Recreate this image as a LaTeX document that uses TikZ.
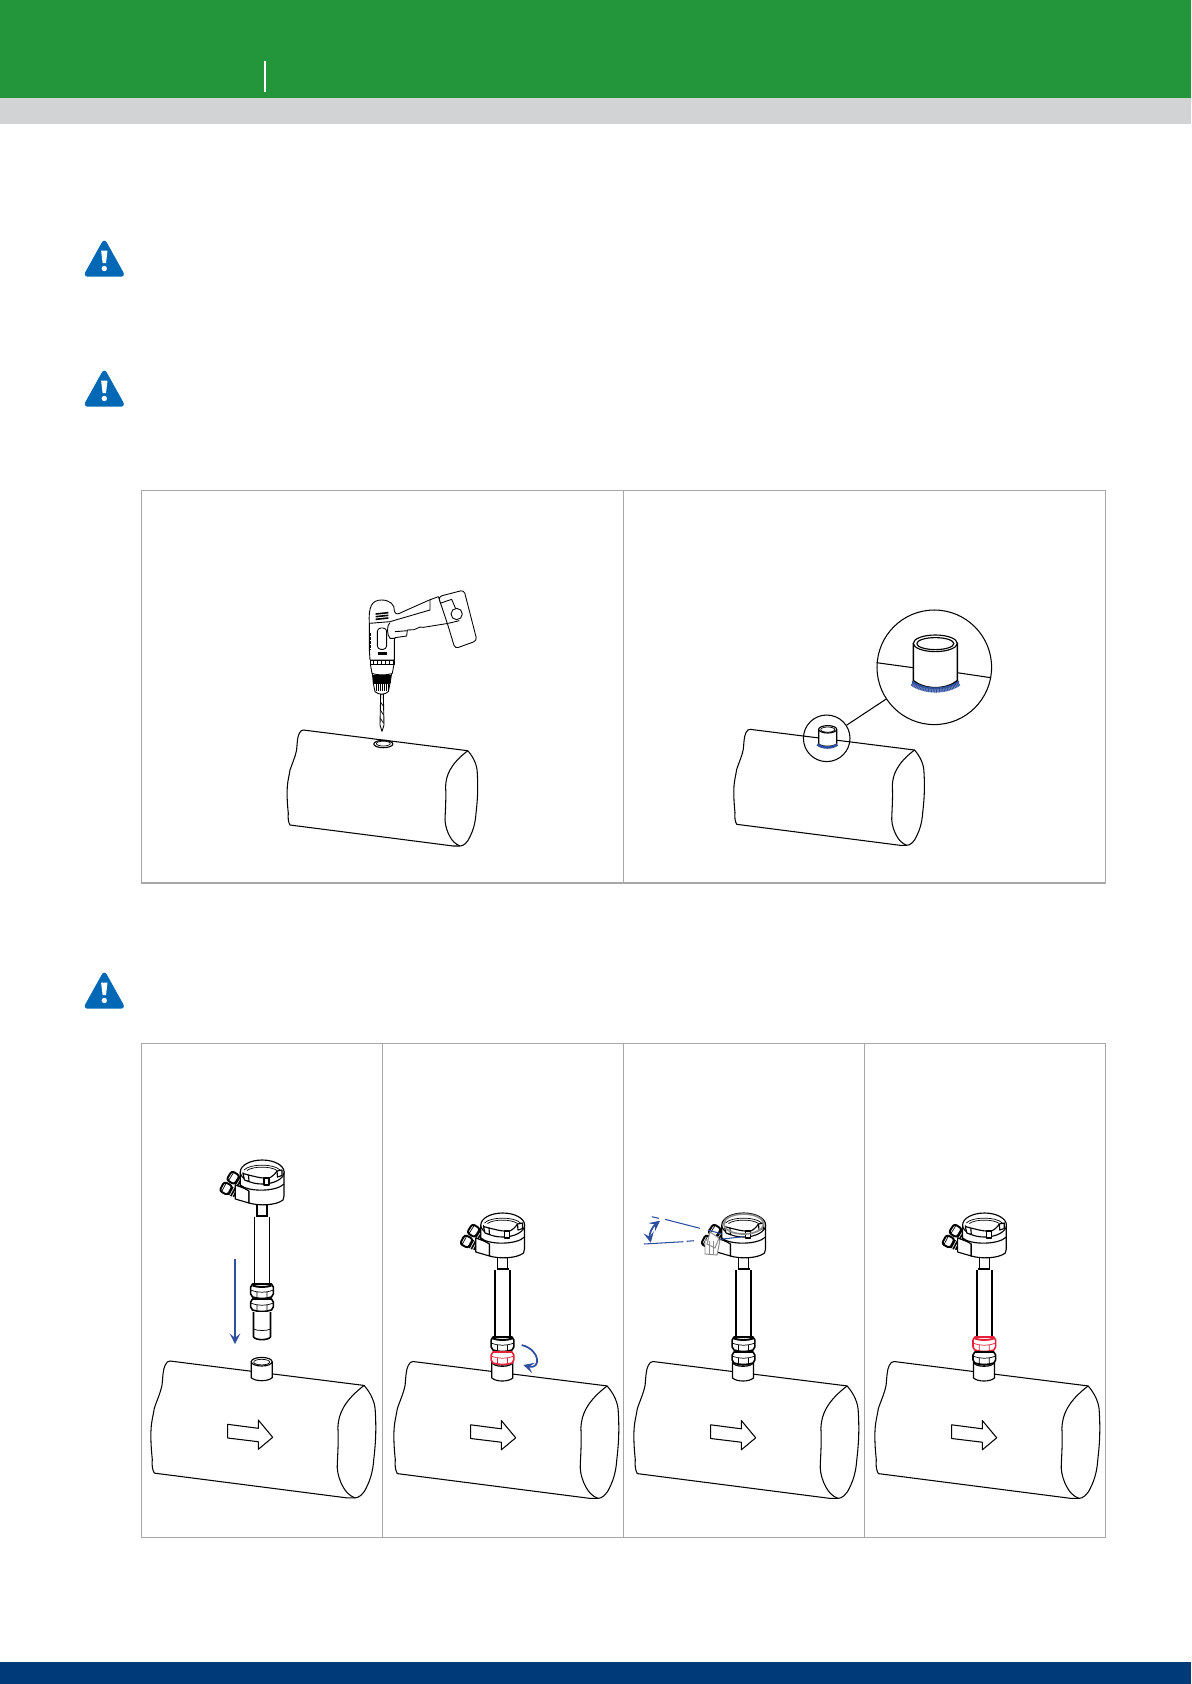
\documentclass[tikz,border=0pt]{standalone}
\usepackage{xcolor}
\usetikzlibrary{arrows.meta,positioning,shapes.geometric,calc}

\definecolor{headgreen}{HTML}{23963C}
\definecolor{bandgrey}{HTML}{D1D3D4}
\definecolor{footnavy}{HTML}{003A78}
\definecolor{iconblue}{HTML}{0068B4}
\definecolor{framegrey}{HTML}{A8A8A8}
\definecolor{markblue}{HTML}{2E4F9E}
\definecolor{markred}{HTML}{E8213A}

\tikzset{
    pics/pipebody/.style={code={
        \draw[pipeline, fill=white] (0,0) -- (164.5,20.7) .. controls (170,27) and (174,35) .. (174,43.3) .. controls (175,60) and (174,72) .. (172.7,83.3) .. controls (172,93) and (170,100) .. (166.7,106.7) .. controls (164,113) and (160,116) .. (156.7,116) -- (150,116) -- (-13.3,95) .. controls (-15,92) and (-15.5,88) .. (-15,83.3) .. controls (-16,74) and (-16.5,65) .. (-16,56.7) .. controls (-15.5,50) and (-14,45) .. (-13.3,40) .. controls (-11,33) and (-8,27) .. (-6.7,20) .. controls (-6,13) and (-6,7) .. (-4,3.3) .. controls (-3,1) and (-1.5,0) .. (0,0) -- cycle;
        \draw[pipeline] (164.5,20.7) .. controls (155,28) and (150,34) .. (146.7,40) .. controls (144,45) and (142.5,50) .. (142.3,56.7) .. controls (143,68) and (142,80) .. (141.7,90) .. controls (142,96) and (144,102) .. (146.7,106.7) .. controls (149,111) and (152,114) .. (156.7,116);
    }},
    pics/flowarrow/.style={code={
        \draw[pipeline, fill=white] (57.7,63.3) -- (88.3,67.3) -- (88.3,59) -- (102.7,76.3) -- (88.3,88.3) -- (88.3,80.7) -- (57.7,77) -- cycle;
    }},
    pics/sleeve/.style={code={
        \draw[partline, fill=white] (-10.5,0) -- (-10.5,16) .. controls (-6,20) and (6,20) .. (10.5,16) -- (10.5,0) -- cycle;
        \draw[partline, fill=white] (0,0) ellipse [x radius=10.5, y radius=4.3];
        \draw[thinline] (0,0.4) ellipse [x radius=8, y radius=2.8];
    }},
    pics/warnicon/.style={code={
        \fill[iconblue, rounded corners=3pt] (0,-3) -- (21.5,35.7) -- (-21.5,35.7) -- cycle;
        \fill[white] (-3.2,9.7) -- (3.2,9.7) -- (1.7,22) -- (-1.7,22) -- cycle;
        \fill[white] (0,27.5) circle [radius=2.7];
    }},
    pics/gland/.style={code={
        \draw[partline, line width=1.1pt, fill=white, rounded corners=1.5pt] (-7,-4.5) rectangle (1,4.5);
        \draw[thinline] (-5,-4.5) -- (-5,4.5);
        \fill[black] (1,-4) rectangle (2.4,4) (3.2,-4) rectangle (4.6,4) (5.4,-3.4) rectangle (6.8,3.4);
    }},
    pics/sensor/.style 2 args={code={
        \draw[partline, fill=white] (-5,30) -- (-5,44) -- (5,44) -- (5,30);
        \draw[partline, line width=1.3pt] (-6,44) -- (6,44);
        \draw[partline, line width=.9pt, fill=white] (-7.5,44.5) -- (-7.5,113) -- (7.5,113) -- (7.5,44.5);
        \draw[partline, line width=.9pt, draw=#1, fill=white] (-9.5,112) -- (9.5,112) -- (11.3,115) -- (11.3,122) -- (9.5,125) .. controls (3,127) and (-3,127) .. (-9.5,125) -- (-11.3,122) -- (-11.3,115) -- cycle;
        \draw[partline, line width=1.1pt, draw=#1] (-9.5,113.5) .. controls (-4,115.5) and (4,115.5) .. (9.5,113.5);
        \draw[thinline, draw=#1] (-11.3,118) .. controls (-4,121) and (4,121) .. (11.3,118) (-5,119.5) -- (-5,126) (5,119.5) -- (5,126);
        \draw[partline, line width=.9pt, draw=#2, fill=white] (-9.5,127) -- (9.5,127) -- (11.3,130) -- (11.3,135) -- (9.5,138) .. controls (3,140) and (-3,140) .. (-9.5,138) -- (-11.3,135) -- (-11.3,130) -- cycle;
        \draw[thinline, draw=#2] (-11.3,131) .. controls (-4,134) and (4,134) .. (11.3,131) (-5,132.5) -- (-5,139) (5,132.5) -- (5,139);
        \pic[rotate=-32, scale=1.15] at (-26,7.5) {gland};
        \pic[rotate=-28, scale=1.15] at (-33,18) {gland};
        \draw[partline, fill=white] (-26.7,13) -- (-13,18) -- (-13,31) -- (-26.7,27) -- cycle;
        \draw[partline, fill=white] (-21.7,0) -- (-21.7,14) -- (-13,19) -- (-13,31) .. controls (-3,34) and (14,33.5) .. (21,28) -- (22,24) -- (22,0) -- cycle;
        \draw[partline] (-21.7,13) .. controls (-14,20) and (14,20) .. (22,12);
        \draw[partline, fill=white] (0.2,0) ellipse [x radius=21.9, y radius=12];
        \draw[thinline] (-18,-2) .. controls (-12,-8.5) and (12,-8.5) .. (18,-2);
        \draw[thinline] (-15,-1.5) .. controls (-9,-6) and (9,-6) .. (15,-1.5);
        \draw[thinline] (-19,0) .. controls (-19,5) and (-17,8) .. (-14,9);
        \draw[partline, fill=white] (-19,1.5) -- (-17.5,8) -- (-13,9.5) -- (-13.5,3) -- cycle;
        \draw[partline, fill=white] (2,6) -- (2,13) -- (7,13) -- (7,6) -- cycle;
        \draw[partline, fill=white] (15,-1) -- (15.5,5) -- (20,3.5) -- (20,-2) -- cycle;
        \draw[partline] (-13.5,3) .. controls (-7,4.5) and (-2,6) .. (2,6) (7,6) .. controls (10,5) and (13,2) .. (15,-1);
    }},
    pics/sensortip/.style={code={
        \draw[partline, line width=.9pt, fill=white] (-8.5,140) -- (-8.5,165) .. controls (-6,168.5) and (6,168.5) .. (8.5,165) -- (8.5,140);
        \draw[thinline] (-8.5,157) .. controls (-5,159) and (5,159) .. (8.5,157);
    }},
    pipeline/.style={draw=black, line width=.6pt, line join=round},
    partline/.style={draw=black, line width=.65pt, line join=round},
    thinline/.style={draw=black, line width=.4pt, line join=round}
}

\begin{document}
\begin{tikzpicture}[
    x=0.02cm, y=-0.02cm,
    framebox/.style={draw=framegrey, line width=.6pt},
    detail/.style={circle, draw, inner sep=0pt, line width=.6pt},
    bluearrow/.style={draw=markblue, line width=1pt, -{Stealth[length=6pt, width=6pt, inset=2.5pt]}},
    dashmark/.style={draw=markblue, line width=.6pt},
    ghost/.style={draw=black!45, line width=.55pt, fill=white}
]
\useasboundingbox (0,0) rectangle (1191,1684);

\fill[headgreen] (0,0) rectangle (1191,98);
\fill[bandgrey] (0,98) rectangle (1191,124);
\fill[footnavy] (0,1662) rectangle (1191,1684);
\fill[white] (264,61) rectangle (266,92);

\pic at (104.3,241) {warnicon};
\pic at (104.3,371) {warnicon};
\pic at (104.3,973) {warnicon};

\draw[framebox] (141.5,490.5) rectangle (1105.5,883);
\draw[framebox] (623.5,490.5) -- (623.5,883);
\draw[framebox] (141.5,1043.5) rectangle (1105.5,1537.5);
\draw[framebox] (382.5,1043.5) -- (382.5,1537.5);
\draw[framebox] (623.5,1043.5) -- (623.5,1537.5);
\draw[framebox] (864.5,1043.5) -- (864.5,1537.5);

\pic at (303.3,730) {pipebody};
\draw[partline] (383.3,744) ellipse [x radius=9.5, y radius=3.7];
\draw[thinline] (383.3,743.6) ellipse [x radius=7, y radius=2.4];

\begin{scope}[shift={(340,590)}, x=0.00667cm, y=-0.00667cm, partline/.style={draw=black, line width=.5pt, line join=round}]
\draw[partline, fill=white] (122,312) -- (120,405) -- (126,424) -- (132,405) -- (130,312) -- cycle;
\draw[thinline] (121,335) -- (131,350) (121,360) -- (131,375) (121,385) -- (131,400);
\draw[partline, fill=white] (97,250) -- (100,280) -- (105,305) .. controls (115,315) and (135,315) .. (145,305) -- (150,280) -- (155,250) -- cycle;
\foreach \xs in {102,108,...,150} {\draw[partline, line width=.9pt] (\xs,254) -- (\xs,278);}
\draw[thinline] (100,280) -- (150,280);
\foreach \xs in {108,114,...,144} {\draw[thinline] (\xs,283) -- (\xs,303);}
\draw[partline, fill=white] (91,222) -- (96,250) .. controls (110,256) and (145,256) .. (157,250) -- (162,222) -- cycle;
\draw[partline, fill=white] (88,100) .. controls (85,50) and (95,30) .. (125,30) .. controls (150,30) and (165,45) .. (163,62) .. controls (165,74) and (175,74) .. (187,66) -- (268,30) -- (295,20) -- (325,100) -- (250,112) .. controls (235,108) and (232,118) .. (222,119) -- (202,120) -- (200,138) -- (165,143) -- (163,150) -- (163,210) -- (90,210) -- (88,180) -- cycle;
\draw[partline] (88,100) -- (150,95) -- (270,60) -- (270,30);
\draw[partline] (150,98) .. controls (140,105) and (140,135) .. (150,145) -- (165,145);
\draw[partline] (165,125) -- (202,122);
\draw[partline, line width=.9pt] (107,72) -- (145,68) (107,80) -- (145,76) (107,88) -- (145,84);
\draw[partline, rounded corners=2pt] (112,114) rectangle (140,178);
\draw[partline, line width=1.4pt] (113,190) -- (140,190);
\draw[partline, line width=1.4pt, dash pattern=on 1.5pt off .7pt] (90,130) -- (90,178);
\draw[partline, fill=white] (90,210) -- (163,210) -- (163,222) -- (90,222) -- cycle;
\foreach \xs in {100,112,...,160} {\draw[partline, line width=.9pt] (\xs,212) -- (\xs,221);}
\draw[partline, fill=white, rounded corners=2pt] (295,20) -- (372,0) -- (411,152) -- (345,176) -- (322,100) -- cycle;
\draw[partline] (300,40) -- (335,28) -- (347,56) (325,100) -- (358,92);
\draw[partline, fill=white] (350,72) circle [radius=17];
\end{scope}

\pic at (750,729.3) {pipebody};
\node[detail, minimum size=0.932cm] (smalldetail) at (826.7,738.3) {};
\node[detail, minimum size=2.292cm] (bigdetail) at (934.3,667.3) {};
\draw[pipeline] (smalldetail) -- (bigdetail);
\draw[partline, fill=white] (818.7,729.3) -- (818.7,744) .. controls (822,747) and (833,747) .. (836.7,744) -- (836.7,729.3) -- cycle;
\draw[partline, fill=white] (827.7,729.3) ellipse [x radius=9, y radius=3.7];
\draw[thinline] (827.7,729.6) ellipse [x radius=7, y radius=2.6];
\draw[draw=markblue, line width=1.5pt] (817.3,744.3) .. controls (822,748.5) and (833,748.5) .. (837.3,744.3);
\draw[pipeline] (876.7,662.7) -- (913.3,667.7);
\draw[pipeline] (957.3,672.7) -- (991,677.7);
\draw[partline, line width=.9pt, fill=white] (913.3,643.3) -- (913.3,680.7) .. controls (925,690) and (946,690) .. (957.3,680.7) -- (957.3,643.3) -- cycle;
\draw[partline, fill=white] (935.3,643.3) ellipse [x radius=22, y radius=8.3];
\draw[partline] (935.3,643.6) ellipse [x radius=18.5, y radius=6];
\draw[draw=markblue!60, line width=2.6pt] (912,683.5) .. controls (925,692.5) and (946,692.5) .. (959,683.5);
\draw[draw=markblue, line width=2.6pt, dash pattern=on .45pt off .45pt] (912,683.5) .. controls (925,692.5) and (946,692.5) .. (959,683.5);
\draw[draw=markblue, line width=.9pt] (912,681.5) .. controls (925,690.5) and (946,690.5) .. (959,681.5);

\pic[scale=1.18] at (170,1361) {pipebody};
\pic at (170,1361) {flowarrow};
\pic at (261.7,1361.7) {sleeve};
\pic at (262,1172) {sensor={black}{black}};
\pic at (262,1172) {sensortip};
\coordinate (lowerstart) at (235,1259);
\coordinate (lowerend) at (235,1344);
\draw[bluearrow] (lowerstart) -- (lowerend);

\pic[scale=1.18] at (413,1361.5) {pipebody};
\pic at (413,1361.5) {flowarrow};
\pic at (502.3,1362) {sleeve};
\pic at (502.5,1225) {sensor={black}{markred}};
\coordinate (turnstart) at (521.7,1345);
\coordinate (turnend) at (523.3,1365);
\draw[bluearrow] (turnstart) .. controls (541,1350) and (541,1370) .. (turnend);

\pic[scale=1.18] at (653,1361.5) {pipebody};
\pic at (653,1361.5) {flowarrow};
\pic at (743,1362) {sleeve};
\pic at (743.5,1225) {sensor={black}{black}};
\draw[draw=black!45, line width=1pt] (743.7,1224) ellipse [x radius=20, y radius=10];
\draw[ghost] (705,1240) -- (705,1254) -- (717,1255) -- (720,1240) -- cycle;
\draw[ghost] (710,1232) -- (719,1238) -- (715,1248) -- (707,1244) -- cycle;
\draw[draw=black!45, line width=.55pt] (709,1241) -- (709,1254) (713,1241) -- (713,1255);
\coordinate (swingstart) at (660,1220.7);
\coordinate (swingend) at (650.7,1242.7);
\draw[draw=markblue, line width=1pt, {Stealth[length=6pt, width=6pt, inset=2.5pt]}-{Stealth[length=6pt, width=6pt, inset=2.5pt]}] (swingstart) .. controls (652,1227) and (649,1234) .. (swingend);
\draw[dashmark] (651.7,1216.7) -- (659,1218.3) (665,1219.3) -- (700,1228.3) (708,1230) -- (722,1234);
\draw[dashmark] (644,1244) -- (683.3,1241.7) (686.7,1241.3) -- (694,1240.7) (720,1239.3) -- (743,1236.7);

\pic[scale=1.18] at (894,1361.5) {pipebody};
\pic at (894,1361.5) {flowarrow};
\pic at (984,1362) {sleeve};
\pic at (984.3,1225) {sensor={markred}{black}};
\end{tikzpicture}
\end{document}
